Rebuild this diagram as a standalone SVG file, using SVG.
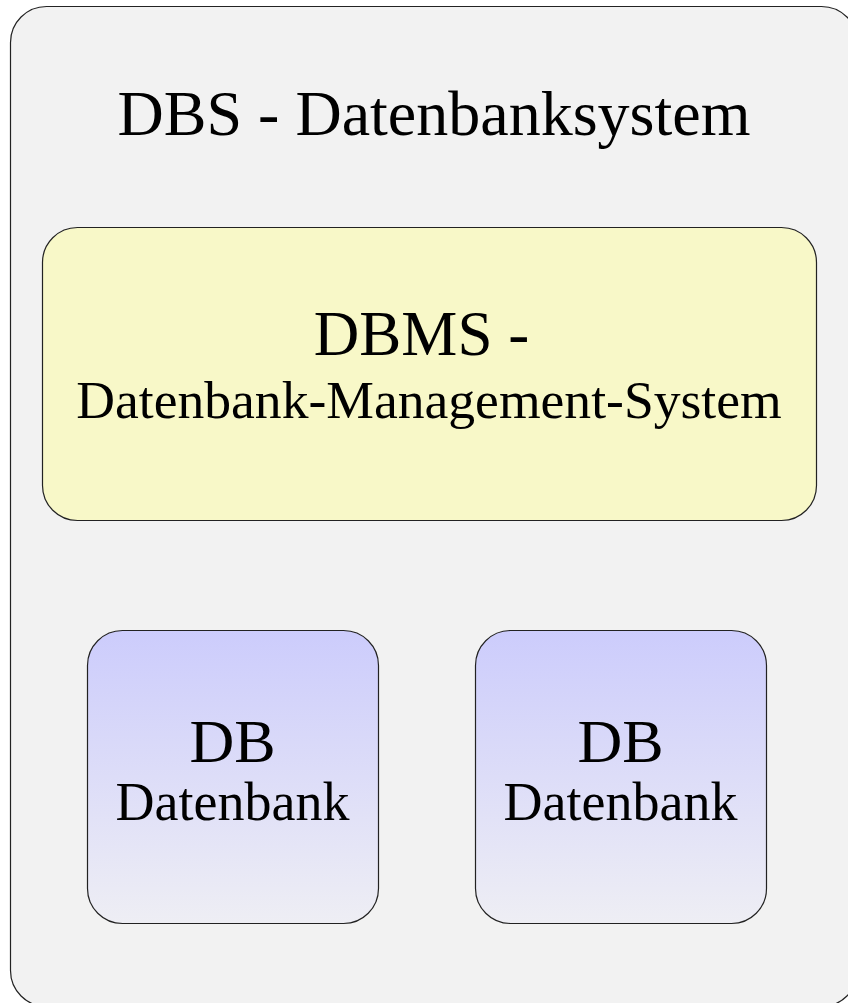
<svg xmlns="http://www.w3.org/2000/svg" width="848" height="1003" viewBox="0 0 848 1003">
<style>
.box{stroke:#222;stroke-width:1.2}
.t{font-family:"Liberation Serif","Times New Roman",serif;fill:#000;text-anchor:middle}
</style>
<defs>
<linearGradient id="dbg" x1="0" y1="0" x2="0" y2="1">
<stop offset="0" stop-color="#ccccfc"/>
<stop offset="1" stop-color="#eeeef4"/>
</linearGradient>
</defs>
<rect width="848" height="1003" fill="#ffffff"/>
<g id="dbs">
<rect class="box" x="10.5" y="6.5" width="847" height="1000" rx="36" fill="#f2f2f2"/>
<text class="t" x="434" y="135" font-size="64">DBS - Datenbanksystem</text>
</g>
<g id="dbms">
<rect class="box" x="42.5" y="227.5" width="774" height="293" rx="35" fill="#f8f8c8"/>
<text class="t" x="421.5" y="355" font-size="63">DBMS -</text>
<text class="t" x="429" y="418" font-size="53.6">Datenbank-Management-System</text>
</g>
<g id="db1">
<rect class="box" x="87.5" y="630.5" width="291" height="293" rx="35" fill="url(#dbg)"/>
<text class="t" x="232.5" y="762" font-size="62">DB</text>
<text class="t" x="232.5" y="820" font-size="54">Datenbank</text>
</g>
<g id="db2">
<rect class="box" x="475.5" y="630.5" width="291" height="293" rx="35" fill="url(#dbg)"/>
<text class="t" x="620.5" y="762" font-size="62">DB</text>
<text class="t" x="620.5" y="820" font-size="54">Datenbank</text>
</g>
<g id="connectors"/>
</svg>
